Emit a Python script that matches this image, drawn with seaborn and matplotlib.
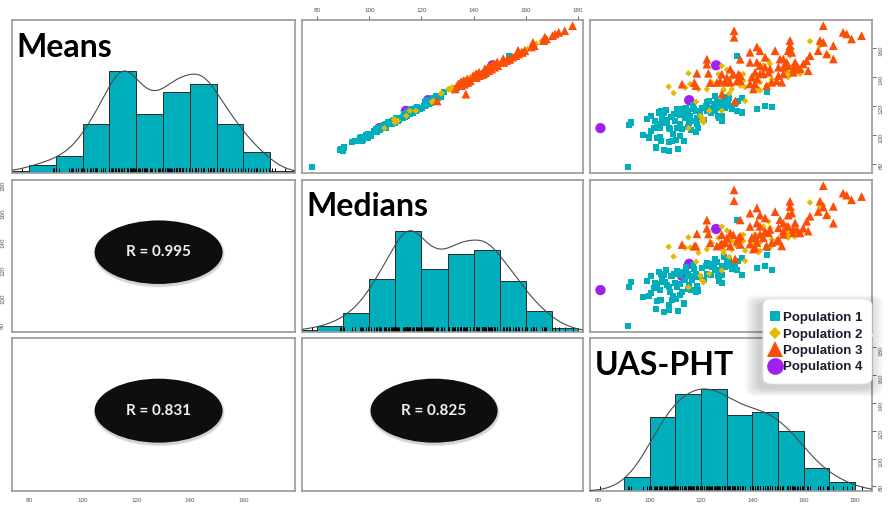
import numpy as np
import pandas as pd
import matplotlib
matplotlib.use("Agg")
import matplotlib.pyplot as plt
from matplotlib.patches import Ellipse, FancyBboxPatch
from matplotlib.lines import Line2D
import seaborn as sns

sns.set_theme(style="white")
plt.rcParams["font.family"] = ["Lato", "DejaVu Sans"]

# ---------------------------------------------------------------------------
# Per-plot observations: UAS plant height and the field means / medians
# ---------------------------------------------------------------------------
p1_uas = [91.6, 91.8, 92.7, 97.4, 99.6, 100.6, 100.5, 102.4, 103.5, 104.4, 105.4, 106.5,
          102.2, 102.8, 104.1, 104.8, 104.1, 104.4, 105.4, 107.4, 107.4, 108.7, 106.7, 107.4,
          108.0, 109.3, 110.0, 110.6, 109.1, 110.4, 111.2, 111.9, 112.6, 111.9, 112.6, 113.2,
          113.9, 114.2, 115.1, 115.8, 116.5, 115.5, 117.1, 118.1, 118.4, 118.6, 118.1, 122.0,
          122.3, 122.5, 123.3, 124.2, 123.8, 124.9, 125.5, 125.5, 126.2, 126.8, 128.1, 128.1,
          128.1, 129.4, 130.1, 131.1, 132.0, 134.0, 134.0, 135.9, 141.8, 145.0, 147.8, 145.6,
          145.6, 134.6, 135.9, 127.0, 130.7, 133.3, 104.8, 106.0, 108.5, 110.5, 112.0, 114.8,
          116.0, 119.5, 120.5, 121.0, 99.0, 101.5, 113.5, 117.0, 119.0, 126.5, 127.0, 129.0,
          131.5, 103.0]
p1_means = [77.5, 106.9, 108.5, 99.8, 98.1, 102.8, 113.1, 91.2, 115.4, 116.6, 115.4, 117.0,
            109.7, 107.4, 105.0, 108.5, 98.1, 95.9, 89.4, 89.0, 94.7, 95.9, 108.5, 105.0,
            103.9, 114.3, 109.7, 105.0, 100.5, 96.3, 90.1, 99.3, 103.9, 107.4, 117.7, 115.4,
            111.9, 118.8, 116.6, 113.1, 109.7, 108.5, 117.7, 116.6, 111.9, 107.4, 101.6, 120.0,
            116.6, 122.3, 123.4, 118.8, 115.4, 121.2, 116.6, 126.9, 122.3, 118.8, 113.1, 109.7,
            122.3, 118.8, 122.3, 125.7, 117.7, 154.5, 116.6, 115.4, 118.1, 120.0, 119.3, 132.4,
            129.7, 123.4, 125.3, 111.5, 123.7, 121.4, 112.0, 110.5, 112.5, 118.0, 113.5, 105.5,
            103.0, 114.5, 118.5, 110.0, 111.0, 104.5, 95.5, 120.5, 104.5, 113.0, 119.5, 126.0,
            120.0, 97.5]
p1_medians = [78.2, 105.8, 109.6, 98.9, 99.4, 101.7, 114.0, 90.3, 116.8, 115.2, 114.7, 118.3,
              108.6, 108.5, 104.2, 109.9, 97.0, 96.8, 88.6, 90.1, 93.5, 97.2, 107.6, 106.3,
              102.8, 115.5, 108.9, 105.9, 99.4, 97.5, 89.3, 100.6, 102.7, 108.3, 116.5, 116.7,
              110.8, 119.9, 115.6, 114.2, 110.8, 107.3, 118.9, 115.4, 113.0, 106.5, 102.8, 121.3,
              115.5, 123.4, 122.2, 120.1, 114.6, 122.5, 117.8, 125.7, 123.6, 117.9, 114.3, 108.8,
              121.2, 120.0, 123.5, 124.6, 118.8, 153.6, 117.9, 114.3, 119.4, 121.2, 118.4, 133.7,
              128.6, 124.5, 126.4, 110.4, 122.6, 122.7, 113.1, 109.4, 113.8, 117.1, 114.6, 104.4,
              104.1, 113.4, 119.7, 111.2, 110.1, 105.6, 94.4, 121.6, 103.6, 114.2, 118.4, 127.3,
              121.1, 96.4]

p2_uas = [115.1, 107.4, 109.3, 113.9, 115.8, 118.1, 119.0, 122.3, 124.2, 126.8, 128.1, 128.8,
          130.7, 132.0, 134.0, 128.1, 120.3, 121.0, 119.7, 115.1, 123.2, 137.2, 136.5, 162.5,
          169.6, 166.4, 167.7, 130.1, 132.0, 135.3, 137.2, 136.5, 140.4, 141.1, 143.0, 142.4,
          143.0, 144.3, 146.3, 146.9, 147.6, 146.9, 153.4, 154.0, 154.7, 155.4, 155.4, 158.6,
          157.9, 128.8, 131.0, 154.0, 156.4, 159.2, 121.0]
p2_means = [142.5, 133.3, 128.8, 132.6, 135.0, 122.8, 131.5, 131.5, 136.1, 141.9, 147.6, 131.5,
            137.2, 131.5, 136.1, 116.6, 109.7, 110.8, 113.1, 104.6, 116.6, 123.4, 141.9, 164.6,
            154.7, 161.6, 162.8, 145.0, 139.8, 134.0, 132.9, 137.4, 138.6, 142.1, 136.3, 131.7,
            130.6, 147.8, 151.2, 149.0, 138.6, 135.2, 143.2, 139.8, 154.7, 159.3, 146.7, 142.1,
            144.3, 130.6, 128.5, 142.9, 142.9, 144.1, 108.5]
p2_medians = [141.3, 134.6, 127.7, 133.8, 134.1, 124.0, 130.4, 132.8, 137.3, 140.7, 148.9, 130.3,
              138.5, 132.6, 135.0, 117.8, 110.9, 109.6, 114.2, 105.8, 115.5, 124.6, 143.1, 166.0,
              156.1, 162.9, 164.0, 146.2, 138.7, 135.2, 131.8, 138.6, 137.5, 143.4, 137.5, 130.6,
              131.8, 149.0, 152.5, 147.9, 139.8, 134.1, 144.5, 141.0, 156.0, 160.6, 145.6, 143.3,
              145.6, 131.9, 127.4, 144.1, 141.8, 145.4, 109.7]

p3_uas = [122.3, 122.3, 118.4, 112.6, 117.4, 122.9, 123.6, 126.2, 128.1, 130.1, 131.4, 132.6,
          134.0, 133.3, 118.0, 127.5, 134.6, 135.3, 128.1, 132.9, 132.9, 167.7, 175.4, 176.8,
          178.7, 182.6, 154.7, 154.7, 166.4, 167.7, 171.6, 165.7, 169.0, 171.6, 141.8, 143.0,
          139.1, 148.9, 154.0, 155.4, 145.0, 139.1, 141.8, 150.8, 152.1, 156.7, 153.4, 162.5,
          161.2, 159.9, 150.2, 152.1, 154.0, 156.0, 161.8, 158.6, 143.0, 145.0, 146.9, 135.3,
          141.1, 143.0, 144.3, 139.8, 141.8, 146.3, 152.1, 150.2, 149.5, 129.4, 131.4, 139.1,
          141.1, 145.6, 147.6, 151.5, 140.4, 135.3, 156.0, 157.3]
p3_means = [152.2, 148.8, 142.5, 135.0, 136.1, 142.5, 136.1, 136.1, 141.9, 139.6, 145.3, 141.9,
            137.2, 123.4, 134.0, 137.2, 141.9, 152.2, 128.1, 171.9, 167.4, 175.4, 170.8, 169.7,
            166.2, 168.5, 165.2, 161.6, 165.2, 163.9, 161.6, 158.1, 155.9, 152.4, 160.7, 158.1,
            157.0, 158.1, 158.1, 157.0, 153.6, 150.1, 150.1, 152.4, 152.4, 150.1, 150.1, 154.7,
            151.2, 149.0, 146.7, 146.7, 147.8, 145.5, 144.3, 145.5, 147.8, 146.7, 145.5, 140.9,
            143.2, 142.1, 142.1, 139.8, 138.6, 143.2, 142.1, 140.9, 137.4, 136.3, 136.3, 135.2,
            135.2, 134.0, 136.3, 136.3, 131.7, 137.4, 143.2, 147.8]
p3_medians = [153.5, 147.7, 143.8, 136.2, 135.0, 143.7, 137.4, 135.1, 143.2, 140.8, 144.2, 143.1,
              138.5, 126.0, 135.2, 136.0, 140.8, 153.6, 137.0, 174.9, 167.2, 177.9, 172.6, 171.2,
              167.9, 170.2, 166.8, 163.1, 166.9, 162.7, 163.2, 159.6, 157.3, 151.3, 162.1, 157.0,
              158.4, 159.5, 157.0, 158.5, 155.0, 149.0, 151.4, 153.8, 151.3, 151.5, 149.0, 156.2,
              152.6, 147.9, 148.0, 145.6, 149.1, 146.8, 145.7, 144.4, 149.1, 145.6, 146.8, 142.2,
              142.1, 143.4, 141.0, 141.1, 137.5, 144.5, 143.4, 139.8, 138.7, 137.6, 135.2, 136.5,
              134.1, 135.3, 137.6, 135.2, 133.0, 136.3, 144.6, 146.7]

p4_uas = [80.8, 115.4, 125.9, 112.6]
p4_means = [104.6, 123.9, 148.0, 116.5]
p4_medians = [103.9, 122.5, 147.2, 114.0]

# Histogram bar counts for the diagonal panels
mm_bin_edges = [70, 80, 90, 100, 110, 120, 130, 140, 150, 160, 170, 180]
means_counts = [1, 4, 8, 23, 48, 28, 38, 42, 23, 10, 1]
medians_counts = [1, 3, 9, 25, 48, 30, 37, 39, 24, 10, 2]
uas_bin_edges = [80, 90, 100, 110, 120, 130, 140, 150, 160, 170, 180]
uas_counts = [0, 6, 32, 42, 44, 33, 34, 26, 10, 4]

variables = ["Means", "Medians", "UAS-PHT"]
populations = ["Population 1", "Population 2", "Population 3", "Population 4"]
pop_colors = ["#00AFBB", "#E7B800", "#FC4E07", "#A020F0"]
pop_markers = ["s", "D", "^", "o"]
pop_sizes = [19, 11, 40, 55]
r_labels = ["R = 0.995", "R = 0.831", "R = 0.825"]

# ---------------------------------------------------------------------------
# Long table of observations (purple group drawn first, as in the field order)
# ---------------------------------------------------------------------------
groups = [
    ("Population 4", p4_uas, p4_means, p4_medians),
    ("Population 1", p1_uas, p1_means, p1_medians),
    ("Population 2", p2_uas, p2_means, p2_medians),
    ("Population 3", p3_uas, p3_means, p3_medians),
]
df = pd.concat(
    [pd.DataFrame({"Population": g, "UAS-PHT": u, "Means": m, "Medians": md})
     for g, u, m, md in groups],
    ignore_index=True,
)

# axis ranges padded by 4% on each side
lims = {}
for v in variables:
    lo, hi = df[v].min(), df[v].max()
    pad = 0.04 * (hi - lo)
    lims[v] = (lo - pad, hi + pad)

palette = dict(zip(populations, pop_colors))
markers = dict(zip(populations, pop_markers))
sizes = dict(zip(populations, pop_sizes))

TEAL = "#00AFBB"
W, H = 888, 509
fig = plt.figure(figsize=(W / 100, H / 100), dpi=100, facecolor="white")

col_px = [(12, 295), (302, 583), (590, 872)]
row_px = [(20, 173), (180, 332), (338, 491)]

axes = [[None] * 3 for _ in range(3)]
for i, (y0, y1) in enumerate(row_px):
    for j, (x0, x1) in enumerate(col_px):
        ax = fig.add_axes([x0 / W, 1 - y1 / H, (x1 - x0) / W, (y1 - y0) / H])
        ax.set_facecolor("white")
        for s in ax.spines.values():
            s.set_color("#9a9a9a")
            s.set_linewidth(1.2)
            s.set_visible(True)
        axes[i][j] = ax

tick_kw = dict(labelsize=4.5, colors="#555555", length=3, width=0.6, pad=2)


def style_ticks(ax):
    ax.tick_params(axis="both", **tick_kw)
    for lab in ax.get_xticklabels() + ax.get_yticklabels():
        lab.set_fontfamily("Liberation Sans")


def diag_panel(ax, name, values, edges, counts, bw_adj):
    edges = [float(e) for e in edges]
    counts = np.asarray(counts, dtype=float)
    mids = [(a + b) / 2 for a, b in zip(edges[:-1], edges[1:])]
    bins = pd.DataFrame({"mid": mids, "n": counts, "rel": counts / counts.max()})
    sns.histplot(data=bins, x="mid", weights="rel", bins=len(mids),
                 binrange=(edges[0], edges[-1]), ax=ax,
                 color=TEAL, alpha=1, edgecolor="#2a2a2a", linewidth=0.7)
    sns.rugplot(x=np.asarray(values), ax=ax, height=0.035, color="black", linewidth=0.7)
    tw = ax.twinx()
    sns.kdeplot(data=bins, x="mid", weights="n", bw_adjust=bw_adj, cut=3, ax=tw,
                color="#4a4a4a", linewidth=0.8)
    peak = tw.lines[0].get_ydata().max()
    tw.set_ylim(0, 1.5 * peak)
    tw.set_axis_off()
    ax.set_ylim(0, 1.5)
    ax.set_xlim(lims[name])
    ax.set_xlabel("")
    ax.set_ylabel("")
    ax.set_xticks([])
    ax.set_yticks([])
    ax.text(0.016, 0.76, name, transform=ax.transAxes, fontsize=23,
            fontweight="bold", color="black", ha="left", va="baseline", zorder=10)


def scatter_panel(ax, xv, yv):
    sns.scatterplot(data=df, x=xv, y=yv, hue="Population", style="Population",
                    size="Population", palette=palette, markers=markers, sizes=sizes,
                    hue_order=populations, style_order=populations, size_order=populations,
                    linewidth=0, legend=False, ax=ax)
    ax.set_xlim(lims[xv])
    ax.set_ylim(lims[yv])
    ax.set_xlabel("")
    ax.set_ylabel("")
    ax.set_xticks([])
    ax.set_yticks([])


def corr_panel(ax, xv, yv, label, cx):
    ax.set_xlim(lims[xv])
    ax.set_ylim(lims[yv])
    ax.set_xticks([])
    ax.set_yticks([])
    cy, ew, eh = 0.525, 0.452, 0.418
    for k in range(3, 0, -1):
        ax.add_patch(Ellipse((cx + 0.002, cy - 0.012), ew + 0.004 * k, eh + 0.008 * k,
                             transform=ax.transAxes, facecolor="black",
                             edgecolor="none", alpha=0.06))
    ax.add_patch(Ellipse((cx, cy), ew, eh, transform=ax.transAxes,
                         facecolor="#0e0e0e", edgecolor="none"))
    ax.text(cx, cy, label, transform=ax.transAxes, ha="center", va="center",
            color="#f2f2f2", fontsize=11, fontweight="bold")


# diagonal
diag_panel(axes[0][0], "Means", df["Means"], mm_bin_edges, means_counts, 0.42)
diag_panel(axes[1][1], "Medians", df["Medians"], mm_bin_edges, medians_counts, 0.42)
diag_panel(axes[2][2], "UAS-PHT", df["UAS-PHT"], uas_bin_edges, uas_counts, 0.55)

# upper triangle
scatter_panel(axes[0][1], "Medians", "Means")
scatter_panel(axes[0][2], "UAS-PHT", "Means")
scatter_panel(axes[1][2], "UAS-PHT", "Medians")

# lower triangle
corr_panel(axes[1][0], "Means", "Medians", r_labels[0], 0.518)
corr_panel(axes[2][0], "Means", "UAS-PHT", r_labels[1], 0.518)
corr_panel(axes[2][1], "Medians", "UAS-PHT", r_labels[2], 0.470)

# outer axes, alternating sides
ticks = np.arange(80, 181, 20)

ax = axes[0][1]
ax.xaxis.tick_top()
ax.set_xticks(ticks)
style_ticks(ax)

ax = axes[0][2]
ax.yaxis.tick_right()
ax.set_yticks([t for t in ticks if lims["Means"][0] <= t <= lims["Means"][1]])
style_ticks(ax)
ax.tick_params(axis="y", labelrotation=90)

ax = axes[1][0]
ax.set_yticks([t for t in ticks if lims["Medians"][0] <= t <= lims["Medians"][1]])
style_ticks(ax)
ax.tick_params(axis="y", labelrotation=90)

ax = axes[2][0]
ax.set_xticks([t for t in ticks if lims["Means"][0] <= t <= lims["Means"][1]])
style_ticks(ax)

ax = axes[2][2]
ax.set_xticks(ticks)
style_ticks(ax)
ty = ax.twinx()
ty.set_ylim(lims["UAS-PHT"])
ty.set_yticks(ticks)
for s in ty.spines.values():
    s.set_visible(False)
style_ticks(ty)
ty.tick_params(axis="y", labelrotation=90)

# legend box with a soft shadow
lx0, lx1, ly0, ly1 = 763 / W, 872 / W, 1 - 384 / H, 1 - 299 / H
for k in range(8, 0, -1):
    fig.add_artist(FancyBboxPatch((lx0 - 0.004, ly0 - 0.008), lx1 - lx0, ly1 - ly0,
                                  boxstyle=f"round,pad={0.002 * k},rounding_size=0.012",
                                  transform=fig.transFigure, facecolor="black",
                                  edgecolor="none", alpha=0.025, zorder=3))
fig.add_artist(FancyBboxPatch((lx0, ly0), lx1 - lx0, ly1 - ly0,
                              boxstyle="round,pad=0,rounding_size=0.012",
                              transform=fig.transFigure, facecolor="white",
                              edgecolor="#e6e6e6", linewidth=0.6, zorder=4))

handle_sizes = [6.5, 6.5, 12, 12]
handles = [Line2D([], [], ls="", marker=m, color=c, markersize=ms, markeredgewidth=0)
           for m, c, ms in zip(pop_markers, pop_colors, handle_sizes)]
fig.legend(handles, populations, loc="upper left", bbox_to_anchor=(lx0 + 0.004, ly1 - 0.020),
           frameon=False, prop={"family": "Liberation Sans", "weight": "bold", "size": 9.5},
           labelcolor="#1c1c30", handlelength=0.9, handletextpad=0.12,
           labelspacing=0.32, borderpad=0.2, borderaxespad=0)

fig.savefig("out.png", dpi=100, facecolor="white")
